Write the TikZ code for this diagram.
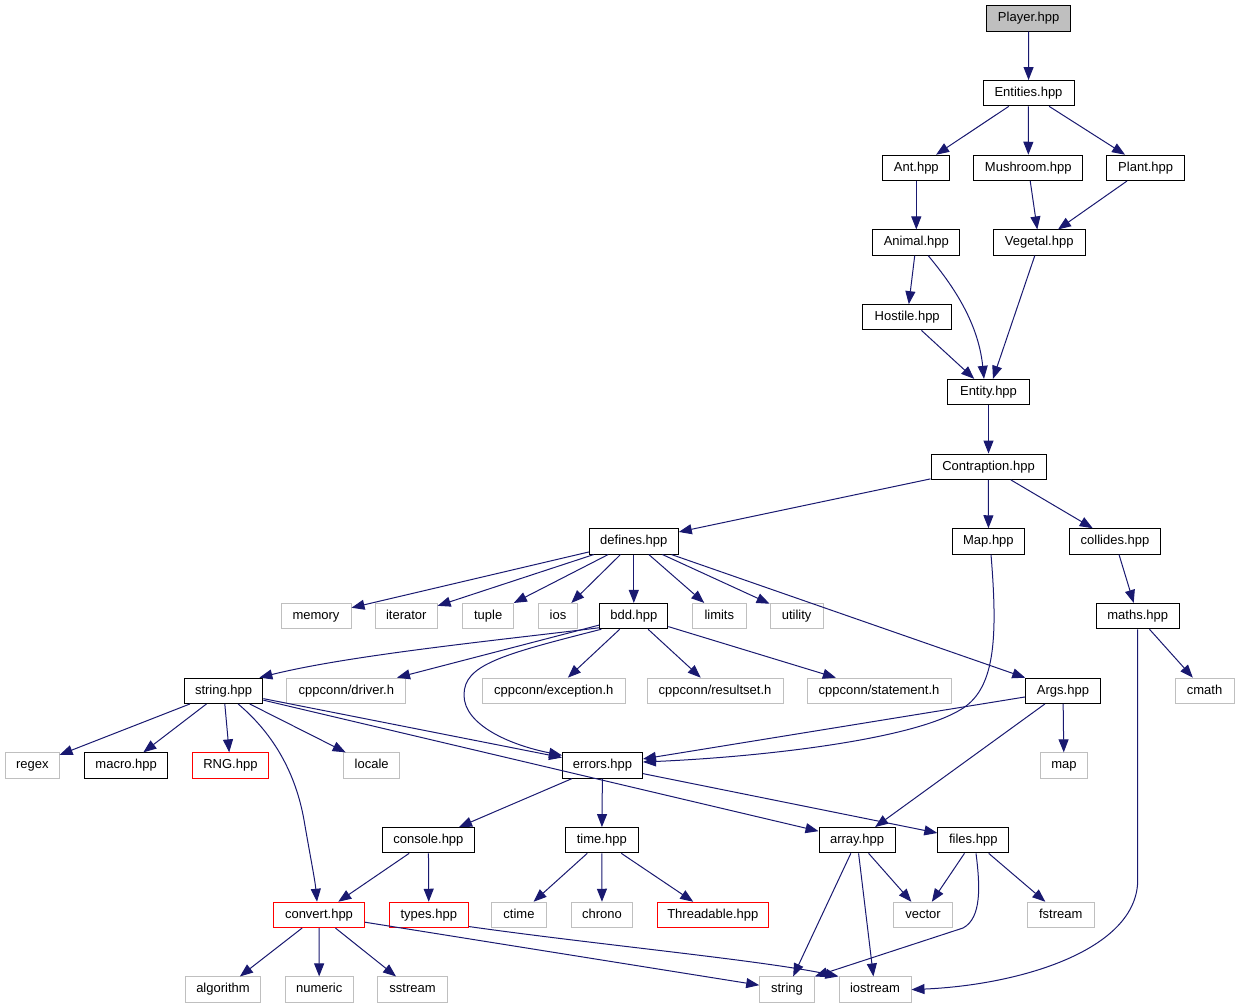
\documentclass[tikz,border=0pt]{standalone}
\usepackage{fontspec}
\setmainfont{Liberation Sans}
\usetikzlibrary{arrows.meta}
\definecolor{edgecol}{HTML}{191970}
\definecolor{grayb}{HTML}{BFBFBF}
\begin{document}
\begin{tikzpicture}[x=1pt,y=-1pt,
  box/.style={draw=black, line width=1pt, minimum height=25.3pt, inner sep=0pt, text height=9.4pt, text depth=2.8pt, font=\fontsize{13}{15}\selectfont},
  sys/.style={box, draw=grayb},
  miss/.style={box, draw=red},
  edge/.style={draw=edgecol, line width=1pt, -{Triangle[length=13pt,width=10pt]}}]
\useasboundingbox (0,0) rectangle (1239,1008);
% row 0-7
\node[box,fill=grayb,minimum width=84pt] (player) at (1028.7,18.5) {Player.hpp};
\node[box,minimum width=91pt] (entities) at (1028.5,93.2) {Entities.hpp};
\node[box,minimum width=67pt] (ant) at (916.3,167.9) {Ant.hpp};
\node[box,minimum width=109pt] (mushroom) at (1028.3,167.9) {Mushroom.hpp};
\node[box,minimum width=78pt] (plant) at (1145.7,167.9) {Plant.hpp};
\node[box,minimum width=87pt] (animal) at (916.3,242.6) {Animal.hpp};
\node[box,minimum width=92pt] (vegetal) at (1039.2,242.6) {Vegetal.hpp};
\node[box,minimum width=89pt] (hostile) at (907.2,317.3) {Hostile.hpp};
\node[box,minimum width=82pt] (entity) at (988.5,392) {Entity.hpp};
\node[box,minimum width=115pt] (contraption) at (988.5,466.7) {Contraption.hpp};
\node[box,minimum width=89pt] (defines) at (633.8,541.4) {defines.hpp};
\node[box,minimum width=72pt] (map) at (988.4,541.4) {Map.hpp};
\node[box,minimum width=91pt] (collides) at (1115,541.4) {collides.hpp};
% row 8
\node[sys,minimum width=70pt] (memory) at (316,616.1) {memory};
\node[sys,minimum width=61.6pt] (iterator) at (406.3,616.1) {iterator};
\node[sys,minimum width=50.6pt] (tuple) at (488.2,616.1) {tuple};
\node[sys,minimum width=39pt] (ios) at (558,616.1) {ios};
\node[box,minimum width=68pt] (bdd) at (633.8,616.1) {bdd.hpp};
\node[sys,minimum width=54pt] (limits) at (719.3,616.1) {limits};
\node[sys,minimum width=53pt] (utility) at (796.6,616.1) {utility};
\node[box,minimum width=83pt] (maths) at (1137.7,616.1) {maths.hpp};
% row 9
\node[box,minimum width=78.5pt] (stringhpp) at (223.6,690.8) {string.hpp};
\node[sys,minimum width=119pt] (driver) at (346.4,690.8) {cppconn/driver.h};
\node[sys,minimum width=143pt] (exception) at (553.8,690.8) {cppconn/exception.h};
\node[sys,minimum width=136pt] (resultset) at (715,690.8) {cppconn/resultset.h};
\node[sys,minimum width=144pt] (statement) at (879,690.8) {cppconn/statement.h};
\node[box,minimum width=74.5pt] (args) at (1063,690.8) {Args.hpp};
\node[sys,minimum width=59pt] (cmath) at (1204.6,690.8) {cmath};
% row 10
\node[sys,minimum width=53.6pt] (regex) at (32.3,765.5) {regex};
\node[box,minimum width=82.7pt] (macro) at (126.2,765.5) {macro.hpp};
\node[miss,minimum width=76.8pt] (rng) at (230.4,765.5) {RNG.hpp};
\node[sys,minimum width=55.7pt] (locale) at (371.7,765.5) {locale};
\node[box,minimum width=80pt] (errors) at (602.5,765.5) {errors.hpp};
\node[sys,minimum width=47pt] (mapsys) at (1063.9,765.5) {map};
% row 11
\node[box,minimum width=92.3pt] (console) at (428.4,840.2) {console.hpp};
\node[box,minimum width=72.8pt] (time) at (601.8,840.2) {time.hpp};
\node[box,minimum width=76pt] (array) at (857,840.2) {array.hpp};
\node[box,minimum width=71pt] (files) at (973.3,840.2) {files.hpp};
% row 12
\node[miss,minimum width=90.6pt] (convert) at (319,914.9) {convert.hpp};
\node[miss,minimum width=79.2pt] (types) at (428.8,914.9) {types.hpp};
\node[sys,minimum width=54.7pt] (ctime) at (519,914.9) {ctime};
\node[sys,minimum width=61.7pt] (chrono) at (602,914.9) {chrono};
\node[miss,minimum width=111pt] (threadable) at (712.8,914.9) {Threadable.hpp};
\node[sys,minimum width=58.6pt] (vector) at (923,914.9) {vector};
\node[sys,minimum width=66.7pt] (fstream) at (1060.7,914.9) {fstream};
% row 13
\node[sys,minimum width=74.3pt] (algorithm) at (223,989.6) {algorithm};
\node[sys,minimum width=68.2pt] (numeric) at (319.2,989.6) {numeric};
\node[sys,minimum width=69.3pt] (sstream) at (412.5,989.6) {sstream};
\node[sys,minimum width=54.6pt] (stringsys) at (787,989.6) {string};
\node[sys,minimum width=72pt] (iostream) at (875,989.6) {iostream};

% edges
\draw[edge] (player) -- (entities);
\draw[edge] (entities) -- (ant);
\draw[edge] (entities) -- (mushroom);
\draw[edge] (entities) -- (plant);
\draw[edge] (ant) -- (animal);
\draw[edge] (mushroom) -- (vegetal);
\draw[edge] (plant) -- (vegetal);
\draw[edge] (animal) -- (hostile);
\draw[edge] ([xshift=12pt]animal.south) .. controls (950,282) and (978,320) .. ([xshift=-4.5pt]entity.north);
\draw[edge] (vegetal) -- (entity);
\draw[edge] (hostile) -- (entity);
\draw[edge] (entity) -- (contraption);
\draw[edge] (contraption) -- (defines);
\draw[edge] (contraption) -- (map);
\draw[edge] (contraption) -- (collides);
\draw[edge] (defines) -- (memory);
\draw[edge] (defines) -- (iterator);
\draw[edge] (defines) -- (tuple);
\draw[edge] (defines) -- (ios);
\draw[edge] (defines) -- (bdd);
\draw[edge] (defines) -- (limits);
\draw[edge] (defines) -- (utility);
\draw[edge] (defines) -- (args);
\draw[edge] (collides) -- (maths);
\draw[edge] (maths) -- (cmath);
\draw[edge] (maths.south) -- (1137.7,880) .. controls (1137.5,950) and (1020,985) .. (iostream.east);
\draw[edge] ([yshift=1.5pt]bdd.south west) .. controls (500,640) and (350,655) .. ([xshift=-4pt]stringhpp.north east);
\draw[edge] (bdd) -- (driver);
\draw[edge] ([xshift=2pt]bdd.south west) .. controls (500,655) and (464,665) .. (464,695) .. controls (464,725) and (510,745) .. ([yshift=-3pt]errors.north west);
\draw[edge] (bdd) -- (exception);
\draw[edge] (bdd) -- (resultset);
\draw[edge] (bdd) -- (statement);
\draw[edge] ([xshift=2.6pt]map.south) .. controls (998,640) and (995,690) .. (960,710) .. controls (910,740) and (760,757) .. ([yshift=3.5pt]errors.east);
\draw[edge] (stringhpp) -- (regex);
\draw[edge] (stringhpp) -- (macro);
\draw[edge] (stringhpp) -- (rng);
\draw[edge] (stringhpp) -- (locale);
\draw[edge] (stringhpp) -- (errors);
\draw[edge] (stringhpp) -- (array);
\draw[edge] ([xshift=14.5pt]stringhpp.south) .. controls (275,735) and (296,775) .. (304,820) .. controls (310,855) and (315,880) .. ([xshift=-2pt]convert.north);
\draw[edge] (args) -- (errors);
\draw[edge] (args) -- (mapsys);
\draw[edge] (args) -- (array);
\draw[edge] (errors) -- (console);
\draw[edge] (errors) -- (time);
\draw[edge] (errors) -- (files);
\draw[edge] (console) -- (convert);
\draw[edge] (console) -- (types);
\draw[edge] (time) -- (ctime);
\draw[edge] (time) -- (chrono);
\draw[edge] (time) -- (threadable);
\draw[edge] (array) -- (stringsys);
\draw[edge] (array) -- (iostream);
\draw[edge] (array) -- (vector);
\draw[edge] (files) -- (vector);
\draw[edge] (files) -- (fstream);
\draw[edge] ([xshift=2.7pt]files.south) .. controls (980,885) and (982,918) .. (963,928) -- (stringsys.north east);
\draw[edge] (convert) -- (algorithm);
\draw[edge] (convert) -- (numeric);
\draw[edge] (convert) -- (sstream);
\draw[edge] (convert) -- (stringsys);
\draw[edge] ([yshift=1.5pt]types.south east) .. controls (600,945) and (760,960) .. (iostream.north west);
\end{tikzpicture}
\end{document}
